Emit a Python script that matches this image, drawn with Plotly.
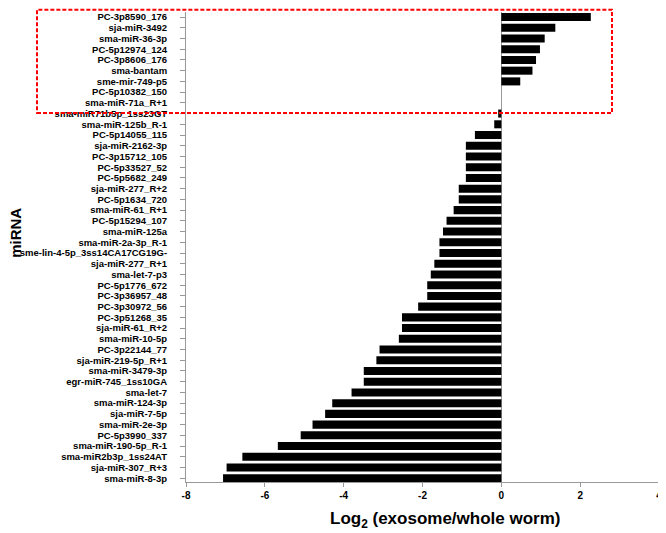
import plotly.graph_objects as go

mirnas = [
    "PC-3p8590_176", "sja-miR-3492", "sma-miR-36-3p", "PC-5p12974_124",
    "PC-3p8606_176", "sma-bantam", "sme-mir-749-p5", "PC-5p10382_150",
    "sma-miR-71a_R+1", "sma-miR71b5p_1ss23GT", "sma-miR-125b_R-1",
    "PC-5p14055_115", "sja-miR-2162-3p", "PC-3p15712_105", "PC-5p33527_52",
    "PC-5p5682_249", "sja-miR-277_R+2", "PC-5p1634_720", "sma-miR-61_R+1",
    "PC-5p15294_107", "sma-miR-125a", "sma-miR-2a-3p_R-1",
    "sme-lin-4-5p_3ss14CA17CG19G-", "sja-miR-277_R+1", "sma-let-7-p3",
    "PC-5p1776_672", "PC-3p36957_48", "PC-3p30972_56", "PC-3p51268_35",
    "sja-miR-61_R+2", "sma-miR-10-5p", "PC-3p22144_77", "sja-miR-219-5p_R+1",
    "sma-miR-3479-3p", "egr-miR-745_1ss10GA", "sma-let-7", "sma-miR-124-3p",
    "sja-miR-7-5p", "sma-miR-2e-3p", "PC-5p3990_337", "sma-miR-190-5p_R-1",
    "sma-miR2b3p_1ss24AT", "sja-miR-307_R+3", "sma-miR-8-3p",
]

log2_ratio = [
    2.27, 1.37, 1.10, 0.98, 0.88, 0.79, 0.48, 0.0, 0.0, -0.08, -0.18,
    -0.67, -0.90, -0.90, -0.90, -0.90, -1.08, -1.08, -1.21, -1.39, -1.48,
    -1.57, -1.57, -1.70, -1.79, -1.88, -1.88, -2.11, -2.52, -2.52, -2.60,
    -3.09, -3.17, -3.49, -3.49, -3.80, -4.29, -4.47, -4.79, -5.09, -5.67,
    -6.57, -6.97, -7.06,
]

x_ticks = [-8, -6, -4, -2, 0, 2, 4]

fig = go.Figure()
fig.add_trace(go.Bar(
    x=log2_ratio,
    y=mirnas,
    orientation="h",
    marker=dict(color="black", line=dict(width=0)),
    hovertemplate="%{y}: %{x}<extra></extra>",
))

# page body has an 8px margin, so the figure is 8px smaller than the window
fig.update_layout(
    width=658,
    height=525,
    margin=dict(l=178, r=7, t=4, b=51),
    plot_bgcolor="white",
    paper_bgcolor="white",
    showlegend=False,
    bargap=0.25,
    font=dict(family="Arial, Liberation Sans", color="black"),
    xaxis=dict(
        range=[-8, 4],
        tickvals=x_ticks,
        ticktext=["<b>%d</b>" % t for t in x_ticks],
        tickfont=dict(size=10),
        showgrid=False,
        zeroline=True,
        zerolinecolor="#999999",
        zerolinewidth=1,
        showline=True,
        linecolor="#999999",
        ticks="outside",
        ticklen=4,
        tickcolor="#999999",
        automargin=False,
    ),
    yaxis=dict(
        type="category",
        categoryorder="array",
        categoryarray=mirnas,
        tickmode="array",
        tickvals=mirnas,
        ticktext=["<b>%s</b>" % m for m in mirnas],
        range=[43.35, -0.47],
        tickfont=dict(size=9.5),
        ticklabelstandoff=11,
        showgrid=False,
        showline=True,
        linecolor="#999999",
        ticks="outside",
        ticklen=5,
        tickcolor="#999999",
        automargin=False,
    ),
)

# axis titles as annotations so they sit where the original puts them
fig.add_annotation(
    text="<b>miRNA</b>",
    xref="paper", yref="paper",
    x=-0.3595, y=0.53,
    xanchor="center", yanchor="middle",
    textangle=-90,
    showarrow=False,
    font=dict(size=15),
)
fig.add_annotation(
    text="<b>Log<sub>2</sub> (exosome/whole worm)</b>",
    xref="paper", yref="paper",
    x=0.548, y=-0.081,
    xanchor="center", yanchor="middle",
    showarrow=False,
    font=dict(size=17),
)

fig.add_shape(
    type="rect",
    xref="paper", yref="paper",
    x0=-0.315, x1=0.9006, y0=0.785, y1=1.005,
    line=dict(color="red", width=2, dash="4px,2px"),
)

fig.write_html("out.html")
